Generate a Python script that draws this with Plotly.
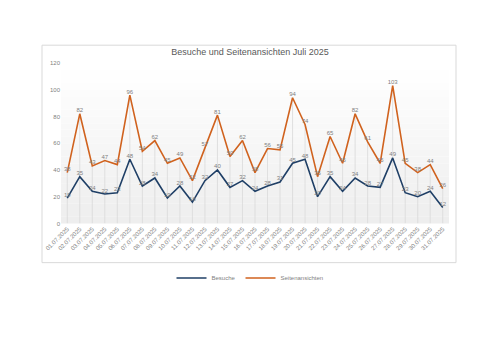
import plotly.graph_objects as go

dates = [f"{d:02d}.07.2025" for d in range(1, 32)]
besuche = [19, 35, 24, 22, 23, 48, 28, 34, 19, 28, 16, 32, 40, 27, 32, 24, 28, 31, 45, 48,
           20, 35, 24, 34, 28, 27, 49, 23, 20, 24, 12]
seiten = [38, 82, 43, 47, 44, 96, 54, 62, 45, 49, 32, 57, 81, 50, 62, 38, 56, 55, 94, 74,
          35, 65, 45, 82, 61, 45, 103, 45, 38, 44, 26]
yticks = [0, 20, 40, 60, 80, 100, 120]

W, H = 500, 353
L, R, T, B = 61, 51, 63, 110

# drop lines from axis to highest point of each day
dx, dy = [], []
for d, a, b in zip(dates, besuche, seiten):
    dx += [d, d, None]
    dy += [0, max(a, b), None]

fig = go.Figure()
fig.add_trace(go.Scatter(x=dx, y=dy, mode="lines", line=dict(color="#d9d9d9", width=0.8),
                         showlegend=False, hoverinfo="skip"))
fig.add_trace(go.Scatter(x=dates, y=besuche, name="Besuche", mode="lines+text",
                         line=dict(color="#1f3f66", width=1.6),
                         text=[str(v) for v in besuche], textposition="top center",
                         textfont=dict(size=6, color="#7f7f7f")))
fig.add_trace(go.Scatter(x=dates, y=seiten, name="Seitenansichten", mode="lines+text",
                         line=dict(color="#d0621e", width=1.6),
                         text=[str(v) for v in seiten], textposition="top center",
                         textfont=dict(size=6, color="#7f7f7f")))

shapes = []
n = 24
for i in range(n):
    t = i / (n - 1)
    g = int(round(255 - (255 - 238) * (1 - t)))
    shapes.append(dict(type="rect", xref="x domain", yref="y domain", x0=0, x1=1,
                       y0=i / n, y1=(i + 1) / n, fillcolor=f"rgb({g},{g},{g})",
                       line=dict(width=0), layer="below"))
pw = W - L - R
ph = H - T - B
shapes.append(dict(type="rect", xref="paper", yref="paper",
                   x0=(42 - L) / pw, x1=(456 - L) / pw,
                   y0=(H - B - 287) / ph, y1=(H - B - 43) / ph,
                   line=dict(color="#d9d9d9", width=1), fillcolor="rgba(0,0,0,0)", layer="below"))

fig.update_layout(
    width=W, height=H,
    margin=dict(l=L, r=R, t=T, b=B),
    paper_bgcolor="white", plot_bgcolor="white",
    font=dict(family="Liberation Sans, Arial, sans-serif", color="#595959"),
    title=dict(text="Besuche und Seitenansichten Juli 2025", x=0.5, xref="container",
               y=1 - 52 / H, yref="container", xanchor="center", yanchor="middle",
               font=dict(size=9, color="#595959")),
    xaxis=dict(type="category", categoryorder="array", categoryarray=dates,
               range=[-0.5, 30.5], tickangle=-45, tickfont=dict(size=6, color="#7f7f7f"),
               showgrid=False, showline=False, ticks="", zeroline=False),
    yaxis=dict(range=[0, 120], tickvals=yticks, tickfont=dict(size=6, color="#7f7f7f"),
               showgrid=False, zeroline=False, showline=False, ticks=""),
    legend=dict(orientation="h", x=0.5, xref="container", xanchor="center",
                y=1 - 278 / H, yref="container", yanchor="middle",
                font=dict(size=6, color="#7f7f7f"), itemwidth=30),
    shapes=shapes,
)
fig.write_html("out.html")
